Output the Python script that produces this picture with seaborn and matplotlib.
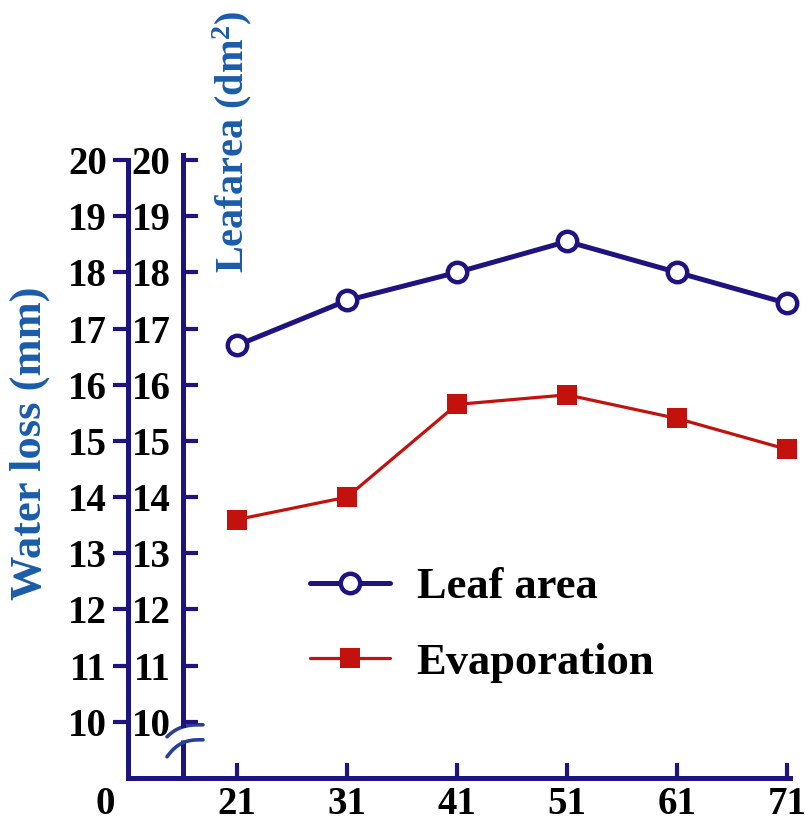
import matplotlib
matplotlib.use('Agg')
import matplotlib.pyplot as plt
import seaborn as sns
import numpy as np
import pandas as pd

# ---- data ----
days = [21, 31, 41, 51, 61, 71]
leaf_area = [16.7, 17.5, 18.0, 18.55, 18.0, 17.45]
evaporation = [13.6, 14.0, 15.65, 15.82, 15.4, 14.85]
y_ticks = [10, 11, 12, 13, 14, 15, 16, 17, 18, 19, 20]
x_tick_labels = ['21', '31', '41', '51', '61', '71']
zero_label = '0'
zero_pos = 9.0

sns.set_style('white')
plt.rcParams['font.family'] = ['Liberation Serif', 'DejaVu Serif']
plt.rcParams['font.weight'] = 'bold'
plt.rcParams['text.color'] = 'black'
plt.rcParams['xtick.color'] = 'black'
plt.rcParams['ytick.color'] = 'black'
plt.rcParams['mathtext.fontset'] = 'custom'
plt.rcParams['mathtext.rm'] = 'Liberation Serif:bold'
plt.rcParams['mathtext.bf'] = 'Liberation Serif:bold'
plt.rcParams['mathtext.it'] = 'Liberation Serif:bold'

NAVY = '#1f1380'
BLUE = '#1a5ca8'
RED = '#c3120d'
BREAK = '#2a3f9a'
TICK_FS = 28

fig = plt.figure(figsize=(8.05, 8.3), dpi=100)
rect = [128 / 805, 1 - 778 / 830, 662 / 805, 618 / 830]
ax = fig.add_axes(rect)

df = pd.DataFrame({'day': days, 'Leaf area': leaf_area, 'Evaporation': evaporation})
sns.lineplot(data=df, x='day', y='Leaf area', ax=ax, color=NAVY, lw=3.6,
             marker='o', markersize=14, markerfacecolor='white',
             markeredgecolor=NAVY, markeredgewidth=3.2, label='Leaf area',
             clip_on=False, zorder=5)
sns.lineplot(data=df, x='day', y='Evaporation', ax=ax, color=RED, lw=2.3,
             marker='s', markersize=15, markerfacecolor=RED,
             markeredgecolor=RED, markeredgewidth=0, label='Evaporation',
             clip_on=False, zorder=5)

ax.set_xlim(11.09, 71.27)
ax.set_ylim(9.0, 20.0)
ax.set_xlabel('')
ax.set_ylabel('')
for s in ['top', 'right']:
    ax.spines[s].set_visible(False)
for s in ['left', 'bottom']:
    ax.spines[s].set_linewidth(3.6)
    ax.spines[s].set_color(NAVY)
    ax.spines[s].set_capstyle('projecting')

ax.set_xticks(days)
ax.set_xticklabels(x_tick_labels, fontsize=TICK_FS, fontweight='bold')
ax.set_yticks(y_ticks)
ax.set_yticklabels([str(v) for v in y_ticks], fontsize=TICK_FS, fontweight='bold')
ax.tick_params(axis='x', bottom=True, direction='in', length=11, width=3,
               color=NAVY, labelcolor='black', pad=6)
ax.tick_params(axis='y', left=True, direction='out', length=11, width=3,
               color=NAVY, labelcolor='black', pad=4)

ax.annotate(zero_label, xy=(zero_pos, 0), xycoords=ax.get_xaxis_transform(),
            xytext=(0, -6), textcoords='offset points', ha='center', va='top',
            fontsize=TICK_FS, fontweight='bold', annotation_clip=False)

# inner (leaf area) axis
ax2 = fig.add_axes(rect)
ax2.patch.set_alpha(0)
ax2.set_ylim(9.0, 20.0)
inner_x = (183 - 128) / 662
for s in ['top', 'right', 'bottom']:
    ax2.spines[s].set_visible(False)
ax2.spines['left'].set_position(('axes', inner_x))
ax2.spines['left'].set_bounds(9.95, 20.09)
ax2.spines['left'].set_linewidth(3.6)
ax2.spines['left'].set_color(NAVY)
ax2.set_xticks([])
ax2.set_yticks(y_ticks)
ax2.set_yticklabels([str(v) for v in y_ticks], fontsize=TICK_FS, fontweight='bold')
ax2.tick_params(axis='y', left=True, direction='in', length=11, width=3,
                color=NAVY, labelcolor='black', pad=9)

# lower part of the inner axis below the break
yt = ax.get_yaxis_transform()
ax.plot([inner_x, inner_x], [9.0, 9.68], transform=yt, color=NAVY, lw=3.6,
        clip_on=False, solid_capstyle='butt')
# break marks
t = np.linspace(0, 1, 40)
shape = 1 - (1 - t) ** 3
x0, x1 = (167 - 128) / 662, (203 - 128) / 662
for ya, yb in [(9.733, 9.947), (9.377, 9.68)]:
    ax.plot(x0 + (x1 - x0) * t, ya + (yb - ya) * shape, transform=yt,
            color=BREAK, lw=2.6, clip_on=False, solid_capstyle='round')

# axis titles
fig.text(30 / 805, 1 - 443 / 830, 'Water loss (mm)', rotation=90, ha='center',
         va='center', fontsize=32, fontweight='bold', color=BLUE)
fig.text(232 / 805, 1 - 142 / 830, 'Leafarea (dm$^{\\mathbf{2}}$)', rotation=90,
         ha='center', va='center', fontsize=29, fontweight='bold', color=BLUE)

ax.legend(loc='center left', bbox_to_anchor=(310 / 805, 1 - 625 / 830),
          bbox_transform=fig.transFigure, frameon=False,
          prop={'weight': 'bold', 'size': 32}, handlelength=1.8,
          handletextpad=0.6, labelspacing=0.8, borderpad=0, borderaxespad=0)

fig.savefig('out.png', dpi=100)
